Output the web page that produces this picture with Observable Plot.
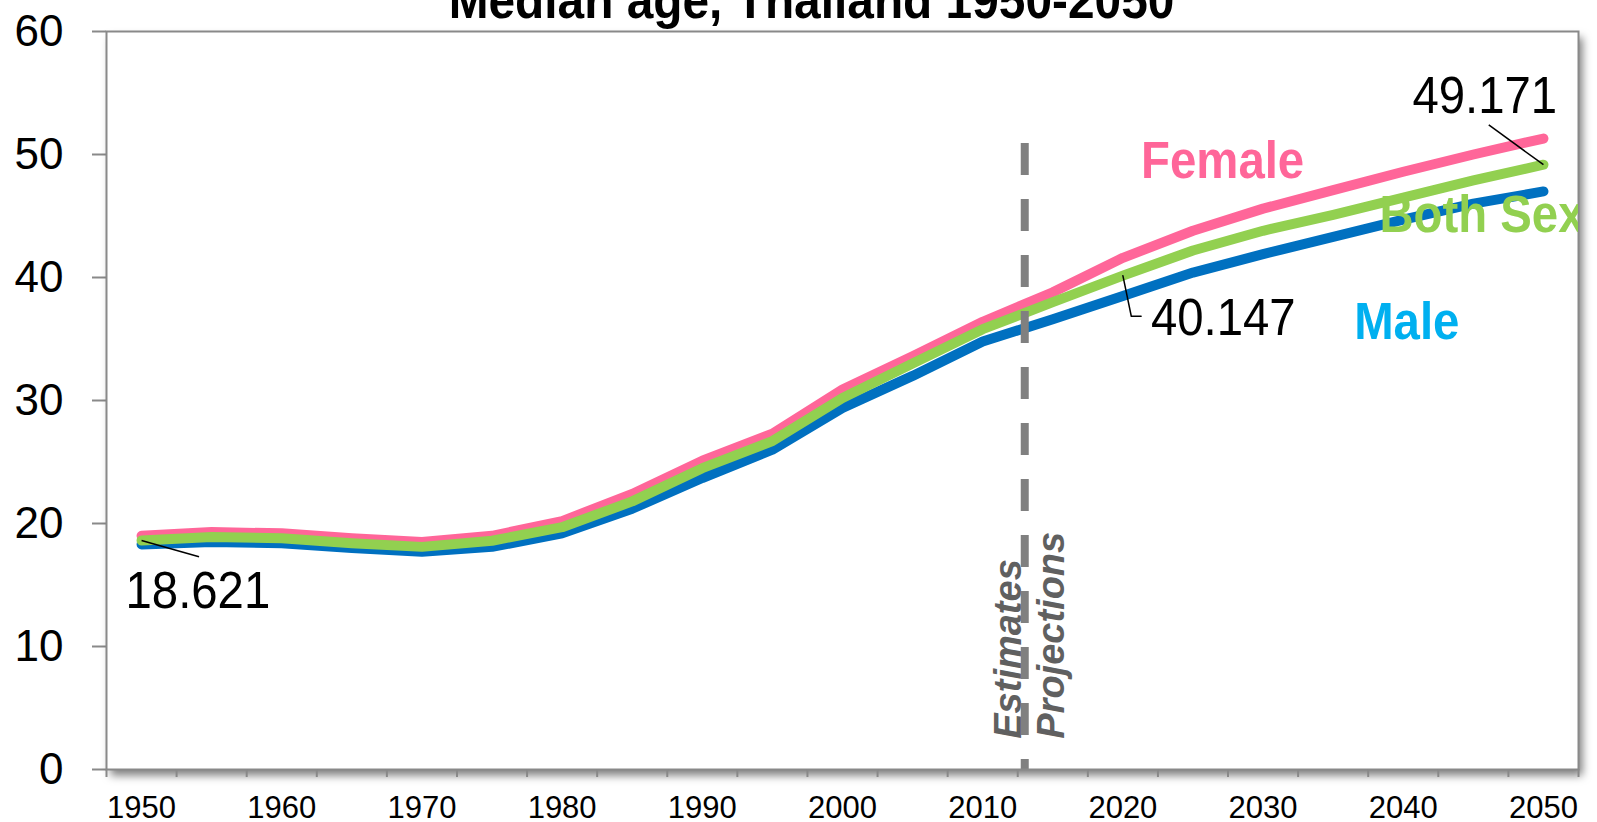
<!DOCTYPE html>
<html><head><meta charset="utf-8">
<script src="https://cdn.jsdelivr.net/npm/d3@7"></script>
<script src="https://cdn.jsdelivr.net/npm/@observablehq/plot@0.6"></script>
<style>html,body{margin:0;padding:0;background:#fff;overflow:hidden}</style>
</head><body><div id="chart"></div>
<script>
const title = "Median age, Thailand 1950-2050";
const years = [1950,1955,1960,1965,1970,1975,1980,1985,1990,1995,2000,2005,2010,2015,2020,2025,2030,2035,2040,2045,2050];
const female = [19.0,19.3,19.2,18.8,18.5,19.0,20.2,22.4,25.1,27.3,30.9,33.6,36.4,38.8,41.6,43.8,45.6,47.1,48.6,50.0,51.3];
const both   = [18.621,18.9,18.8,18.4,18.1,18.6,19.7,21.8,24.5,26.7,30.2,33.0,35.8,38.0,40.147,42.2,43.8,45.1,46.5,47.9,49.171];
const male   = [18.3,18.5,18.4,18.0,17.7,18.1,19.2,21.2,23.7,26.0,29.4,32.0,34.8,36.6,38.5,40.4,41.9,43.3,44.7,46.0,47.0];
const seriesNames = ["Female","Both Sex","Male"];
const yTicks = [0,10,20,30,40,50,60];
const xLabelYears = [1950,1960,1970,1980,1990,2000,2010,2020,2030,2040,2050];
const projectionStart = 2013;
const periodLabels = ["Estimates","Projections"];

const categoryEdges = years.map(y => y - 2.5).concat([years[years.length - 1] + 2.5]);
const table = years.map((year, i) => ({year, female: female[i], both: both[i], male: male[i]}));
const fmt = d3.format(".3f");
const valueLabels = [0, 14, 20].map(i => ({year: years[i], v: both[i], text: fmt(both[i])}));

const PINK = "#ff6699", GREEN = "#92d050", BLUE = "#0070c0", CYAN = "#00b0f0", GRAY = "#898989";
const H = 822, MT = 31, MB = 53;
const LW = 10;

const chart = Plot.plot({
  width: 1597, height: H,
  marginLeft: 106, marginRight: 19, marginTop: MT, marginBottom: MB,
  style: {fontFamily: "'Liberation Sans', Arial, sans-serif", background: "white", overflow: "visible"},
  x: {domain: [categoryEdges[0], categoryEdges[categoryEdges.length - 1]], ticks: xLabelYears, tickSize: 0, tickPadding: 26, tickFormat: d => String(d), label: null},
  y: {domain: [0, 60], ticks: yTicks, tickSize: 14, tickPadding: 29, label: null},
  marks: [
    Plot.frame({fill: "white"}),
    Plot.text([title], {frameAnchor: "top", dx: -31, dy: -14, lineAnchor: "bottom", fontSize: 52, fontWeight: "bold", fill: "black"}),
    Plot.text([periodLabels[0]], {x: () => projectionStart, y: () => 2.5, text: d => d, dx: -4, rotate: -90, textAnchor: "start", lineAnchor: "bottom", fontSize: 38, fontWeight: "bold", fontStyle: "italic", fill: "#606060"}),
    Plot.text([periodLabels[1]], {x: () => projectionStart, y: () => 2.5, text: d => d, dx: 39, rotate: -90, textAnchor: "start", lineAnchor: "bottom", fontSize: 38, fontWeight: "bold", fontStyle: "italic", fill: "#606060"}),
    Plot.line(table, {x: "year", y: "female", stroke: PINK, strokeWidth: LW, strokeLinecap: "round", strokeLinejoin: "round"}),
    Plot.line(table, {x: "year", y: "male", stroke: BLUE, strokeWidth: LW, strokeLinecap: "round", strokeLinejoin: "round"}),
    Plot.line(table, {x: "year", y: "both", stroke: GREEN, strokeWidth: LW, strokeLinecap: "round", strokeLinejoin: "round"}),
    Plot.ruleX([projectionStart], {y1: 50.9, y2: 0, stroke: "#808080", strokeWidth: 8, strokeDasharray: "32,24"}),
    Plot.frame({stroke: GRAY, strokeWidth: 2}),
    Plot.ruleX(categoryEdges, {insetTop: H - MT - MB, insetBottom: -8, stroke: GRAY, strokeWidth: 2}),
    // leader lines
    Plot.link([valueLabels[0]], {x1: "year", y1: "v", x2: () => 1954.1, y2: () => 17.3, stroke: "black", strokeWidth: 1.5}),
    Plot.line([{x: years[14], y: both[14]}, {x: 2020.6, y: 36.85}, {x: 2021.3, y: 36.85}], {x: "x", y: "y", stroke: "black", strokeWidth: 1.5}),
    Plot.link([valueLabels[2]], {x1: () => 2046.1, y1: () => 52.4, x2: "year", y2: "v", stroke: "black", strokeWidth: 1.5}),
    // value labels
    Plot.text([valueLabels[0]], {x: "year", y: "v", text: "text", dx: -16, dy: 68, textAnchor: "start", lineAnchor: "bottom", fontSize: 52, fill: "black"}),
    Plot.text([valueLabels[1]], {x: "year", y: "v", text: "text", dx: 28, dy: 59, textAnchor: "start", lineAnchor: "bottom", fontSize: 52, fill: "black"}),
    Plot.text([valueLabels[2]], {x: "year", y: "v", text: "text", dx: -131, dy: -52, textAnchor: "start", lineAnchor: "bottom", fontSize: 52, fill: "black"}),
    // series labels
    Plot.text([seriesNames[0]], {x: () => 2021.3, y: () => 48.05, text: d => d, textAnchor: "start", lineAnchor: "bottom", fontSize: 52, fontWeight: "bold", fill: PINK}),
    Plot.text([seriesNames[1]], {x: () => 2038.3, y: () => 43.66, text: d => d, textAnchor: "start", lineAnchor: "bottom", fontSize: 52, fontWeight: "bold", fill: GREEN, clip: true}),
    Plot.text([seriesNames[2]], {x: () => 2036.5, y: () => 35.04, text: d => d, textAnchor: "start", lineAnchor: "bottom", fontSize: 52, fontWeight: "bold", fill: CYAN})
  ]
});
document.getElementById("chart").appendChild(chart);

function squeeze(t, sx) {
  const tr = t.getAttribute("transform");
  if (tr) t.setAttribute("transform", tr + ` scale(${sx},1)`);
  else {
    const x = +(t.getAttribute("x") || 0);
    t.setAttribute("x", 0);
    t.setAttribute("transform", `translate(${x},0) scale(${sx},1)`);
  }
}
const valueTexts = valueLabels.map(d => d.text);
const isAxis = (t, axis) => {
  const g = t.closest("g[aria-label]");
  const a = g ? g.getAttribute("aria-label") : "";
  return a.startsWith(axis + "-axis");
};
chart.querySelectorAll("text").forEach(t => {
  const s = t.textContent;
  if (isAxis(t, "y")) { t.style.fontSize = "44px"; t.style.fill = "black"; return; }
  if (isAxis(t, "x")) { t.style.fontSize = "31px"; t.style.fill = "black"; return; }
  if (s === title) squeeze(t, 0.92);
  else if (valueTexts.includes(s)) squeeze(t, 0.91);
  else if (seriesNames.includes(s)) squeeze(t, 0.91);
});
chart.querySelectorAll('g[aria-label^="y-axis tick"] path, g[aria-label^="y-axis tick"] line').forEach(l => {
  if (l.closest('g[aria-label="y-axis tick label"]')) return;
  l.setAttribute("stroke", GRAY); l.setAttribute("stroke-width", 2);
});
const frames = chart.querySelectorAll('g[aria-label="frame"] rect, rect[aria-label="frame"]');
if (frames.length) frames[0].style.filter = "drop-shadow(4px 6px 4px rgba(0,0,0,0.5))";
</script>
</body></html>
